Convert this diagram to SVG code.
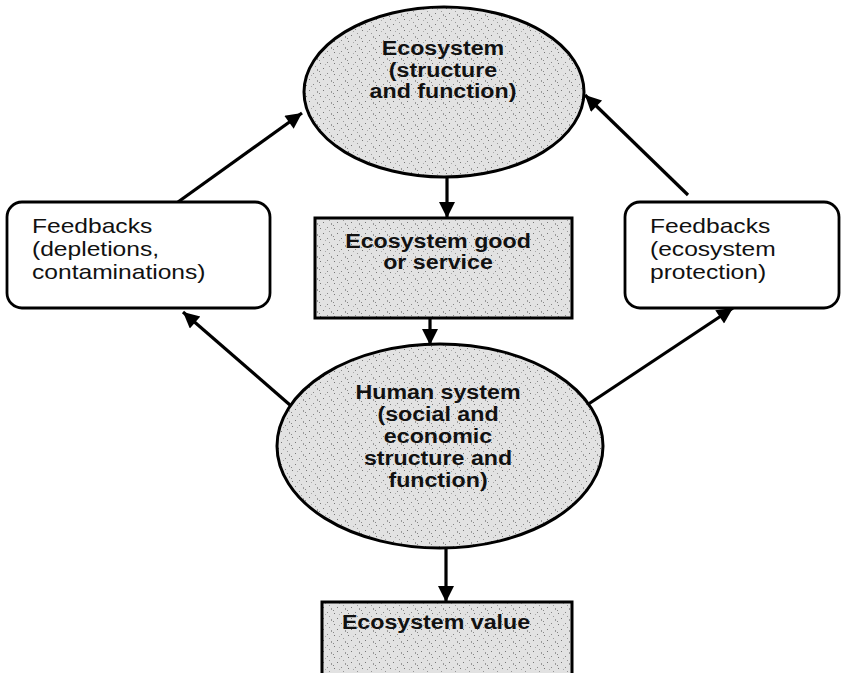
<svg xmlns="http://www.w3.org/2000/svg" width="846" height="673" viewBox="0 0 846 673">
<style>
.shape{stroke:#000;stroke-width:3;}
.stip{fill:url(#stipple);}
.rbox{fill:#fff;stroke:#000;stroke-width:2.8;}
.b{font-family:"Liberation Sans",Arial,sans-serif;font-weight:bold;font-size:19.5px;fill:#111;text-anchor:middle;}
.r{font-family:"Liberation Sans",Arial,sans-serif;font-size:20.5px;fill:#111;}
.conn{stroke:#000;stroke-width:3.2;fill:none;marker-end:url(#ah);}
</style>
<defs>
<pattern id="stipple" width="14" height="11" patternUnits="userSpaceOnUse">
<rect width="14" height="11" fill="#e2e2e2"/>
<rect x="1" y="2" width="1" height="1" fill="#777"/>
<rect x="5" y="7" width="1" height="1" fill="#888"/>
<rect x="9" y="3" width="1" height="2" fill="#999"/>
<rect x="12" y="8" width="1" height="1" fill="#777"/>
<rect x="3" y="9" width="1" height="1" fill="#aaa"/>
<rect x="7" y="0" width="1" height="1" fill="#999"/>
<rect x="11" y="5" width="1" height="1" fill="#888"/>
</pattern>
<marker id="ah" viewBox="0 0 10 10" refX="10" refY="5" markerWidth="20" markerHeight="16" markerUnits="userSpaceOnUse" orient="auto">
<path d="M0,0 L10,5 L0,10 z" fill="#000"/>
</marker>
</defs>

<g id="connectors">
<line class="conn" x1="447" y1="177" x2="447" y2="218"/>
<line class="conn" x1="430" y1="318" x2="430" y2="345"/>
<line class="conn" x1="446" y1="548" x2="446" y2="602"/>
<line class="conn" x1="178" y1="202" x2="302" y2="113"/>
<line class="conn" x1="688" y1="195" x2="585" y2="95"/>
<line class="conn" x1="290" y1="405" x2="183" y2="312"/>
<line class="conn" x1="587" y1="405" x2="733" y2="308"/>
</g>

<g id="ecosystem">
<ellipse class="shape stip" cx="444" cy="92" rx="140" ry="85"/>
<text class="b" transform="translate(443,55) scale(1.19,1)">Ecosystem</text>
<text class="b" transform="translate(443,77) scale(1.19,1)">(structure</text>
<text class="b" transform="translate(443,98) scale(1.19,1)">and function)</text>
</g>

<g id="good-service">
<rect class="shape stip" x="315" y="218" width="257" height="100"/>
<text class="b" transform="translate(438,248) scale(1.19,1)">Ecosystem good</text>
<text class="b" transform="translate(438,269) scale(1.19,1)">or service</text>
</g>

<g id="feedback-left">
<rect class="rbox" x="7" y="202" width="263" height="106" rx="15"/>
<text class="r" transform="translate(32,233) scale(1.2,1)">Feedbacks</text>
<text class="r" transform="translate(32,256) scale(1.2,1)">(depletions,</text>
<text class="r" transform="translate(32,279) scale(1.2,1)">contaminations)</text>
</g>

<g id="feedback-right">
<rect class="rbox" x="625" y="202" width="214" height="106" rx="15"/>
<text class="r" transform="translate(650,233) scale(1.2,1)">Feedbacks</text>
<text class="r" transform="translate(650,256) scale(1.2,1)">(ecosystem</text>
<text class="r" transform="translate(650,279) scale(1.2,1)">protection)</text>
</g>

<g id="human-system">
<ellipse class="shape stip" cx="440" cy="446" rx="163" ry="102"/>
<text class="b" transform="translate(438,399) scale(1.19,1)">Human system</text>
<text class="b" transform="translate(438,421) scale(1.19,1)">(social and</text>
<text class="b" transform="translate(438,443) scale(1.19,1)">economic</text>
<text class="b" transform="translate(438,465) scale(1.19,1)">structure and</text>
<text class="b" transform="translate(438,487) scale(1.19,1)">function)</text>
</g>

<g id="ecosystem-value">
<rect class="shape stip" x="322" y="602" width="250" height="80"/>
<text class="b" transform="translate(436,629) scale(1.19,1)">Ecosystem value</text>
</g>
</svg>
